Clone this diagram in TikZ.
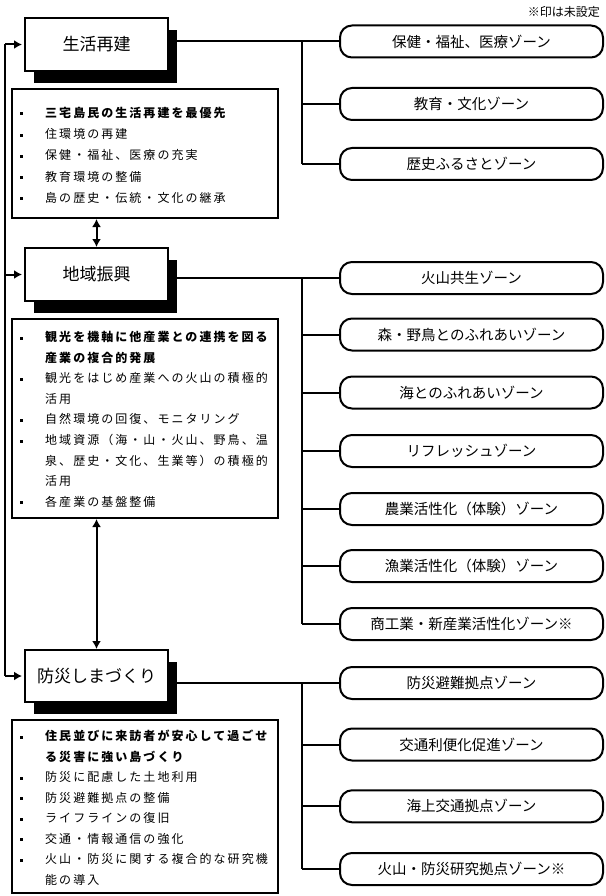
\documentclass[tikz,border=0pt]{standalone}
\usepackage{fontspec}
\setmainfont{Noto Sans CJK JP}
\newfontfamily\jpsp[LetterSpace=17]{Noto Sans CJK JP}
\usetikzlibrary{shadows,arrows.meta}
\tikzset{
  conn/.style={line width=2pt},
  mainbox/.style={draw, line width=2pt, fill=white, minimum width=143pt, minimum height=53pt, inner sep=0pt,
    font=\fontsize{17}{17}\selectfont,
    drop shadow={shadow xshift=9pt, shadow yshift=-12pt, fill=black, opacity=1}},
  zone/.style={draw, line width=2pt, rounded corners=12pt, minimum width=263pt, minimum height=32pt, inner sep=0pt,
    font=\fontsize{14.5}{14.5}\selectfont},
  listbox/.style={draw, line width=2pt, inner sep=0pt},
  item/.style={anchor=west, inner sep=0pt, font=\jpsp\fontsize{12}{12}\selectfont},
  bitem/.style={item, font=\jpsp\bfseries\fontsize{12}{12}\selectfont},
  arr/.style={conn, -{Latex[length=8pt,width=9pt]}, shorten >=2pt},
  darr/.style={conn, {Latex[length=8pt,width=9pt]}-{Latex[length=8pt,width=9pt]}},
}
\begin{document}
\begin{tikzpicture}[x=1pt,y=-1pt]
\useasboundingbox (0,0) rectangle (605,896);

% note
\node[anchor=east, inner sep=0pt, font=\fontsize{12}{12}\selectfont] (note) at (600,12) {※印は未設定};

% main boxes
\node[mainbox] (mb1) at (96.5,44.5) {生活再建};
\node[mainbox] (mb2) at (96.5,274.5) {地域振興};
\node[mainbox, minimum height=52pt] (mb3) at (96.5,676) {防災しまづくり};

% list boxes
\node[listbox, minimum width=266pt, minimum height=129pt] (lb1) at (145,153.5) {};
\node[listbox, minimum width=266pt, minimum height=199pt] (lb2) at (145,418.5) {};
\node[listbox, minimum width=266pt, minimum height=173pt] (lb3) at (145,806.5) {};

% list 1
\node[bitem] (a1) at (45,113) {三宅島民の生活再建を最優先};
\node[item] (a2) at (45,134.2) {住環境の再建};
\node[item] (a3) at (45,155.4) {保健・福祉、医療の充実};
\node[item] (a4) at (45,176.6) {教育環境の整備};
\node[item] (a5) at (45,197.8) {島の歴史・伝統・文化の継承};
\foreach \y in {113,134.2,155.4,176.6,197.8} \fill (19.5,\y-0.5) rectangle (22.5,\y+2.5);

% list 2
\node[bitem] (b1) at (45,337) {観光を機軸に他産業との連携を図る};
\node[bitem] (b1b) at (45,357.6) {産業の複合的発展};
\node[item] (b2) at (45,378.2) {観光をはじめ産業への火山の積極的};
\node[item] (b2b) at (45,398.8) {活用};
\node[item] (b3) at (45,419.4) {自然環境の回復、モニタリング};
\node[item] (b4) at (45,440) {地域資源（海・山・火山、野鳥、温};
\node[item] (b4b) at (45,460.6) {泉、歴史・文化、生業等）の積極的};
\node[item] (b4c) at (45,481.2) {活用};
\node[item] (b5) at (45,501.8) {各産業の基盤整備};
\foreach \y in {337,378.2,419.4,440,501.8} \fill (19.5,\y-0.5) rectangle (22.5,\y+2.5);

% list 3
\node[bitem] (c1) at (45,736) {住民並びに来訪者が安心して過ごせ};
\node[bitem] (c1b) at (45,756.5) {る災害に強い島づくり};
\node[item] (c2) at (45,777) {防災に配慮した土地利用};
\node[item] (c3) at (45,797.5) {防災避難拠点の整備};
\node[item] (c4) at (45,818) {ライフラインの復旧};
\node[item] (c5) at (45,838.5) {交通・情報通信の強化};
\node[item] (c6) at (45,859) {火山・防災に関する複合的な研究機};
\node[item] (c6b) at (45,879.5) {能の導入};
\foreach \y in {736,777,797.5,818,838.5,859} \fill (19.5,\y-0.5) rectangle (22.5,\y+2.5);

% zones
\node[zone] (z1) at (471.5,41.5) {保健・福祉、医療ゾーン};
\node[zone] (z2) at (471.5,104) {教育・文化ゾーン};
\node[zone] (z3) at (471.5,164) {歴史ふるさとゾーン};
\node[zone] (z4) at (471.5,278) {火山共生ゾーン};
\node[zone] (z5) at (471.5,334.5) {森・野鳥とのふれあいゾーン};
\node[zone] (z6) at (471.5,392.5) {海とのふれあいゾーン};
\node[zone] (z7) at (471.5,451) {リフレッシュゾーン};
\node[zone] (z8) at (471.5,509) {農業活性化（体験）ゾーン};
\node[zone] (z9) at (471.5,566) {漁業活性化（体験）ゾーン};
\node[zone] (z10) at (471.5,624) {商工業・新産業活性化ゾーン※};
\node[zone] (z11) at (471.5,683) {防災避難拠点ゾーン};
\node[zone] (z12) at (471.5,744.5) {交通利便化促進ゾーン};
\node[zone] (z13) at (471.5,806.3) {海上交通拠点ゾーン};
\node[zone] (z14) at (471.5,869) {火山・防災研究拠点ゾーン※};

% trunk connectors
\coordinate (t) at (302,0);
\draw[conn] (mb1.east |- z1.west) -- (z1.west);
\draw[conn] (t |- z1.west) -- (t |- z3.west);
\foreach \z in {z2,z3} \draw[conn] (t |- \z.west) -- (\z.west);

\draw[conn] (mb2.east |- z4.west) -- (z4.west);
\draw[conn] (t |- z4.west) -- (t |- z10.west);
\foreach \z in {z5,z6,z7,z8,z9,z10} \draw[conn] (t |- \z.west) -- (\z.west);

\draw[conn] (mb3.east |- z11.west) -- (z11.west);
\draw[conn] (t |- z11.west) -- (t |- z14.west);
\foreach \z in {z12,z13,z14} \draw[conn] (t |- \z.west) -- (\z.west);

% feedback spine
\coordinate (s) at (5,0);
\draw[conn] (s |- mb1.west) -- (s |- mb3.west);
\draw[arr] (s |- mb1.west) -- (mb1.west);
\draw[arr] (s |- mb2.west) -- (mb2.west);
\draw[arr] (s |- mb3.west) -- (mb3.west);

% double arrows
\draw[darr] (mb2.north |- lb1.south) -- (mb2.north);
\draw[darr] (mb3.north |- lb2.south) -- (mb3.north);
\end{tikzpicture}
\end{document}
